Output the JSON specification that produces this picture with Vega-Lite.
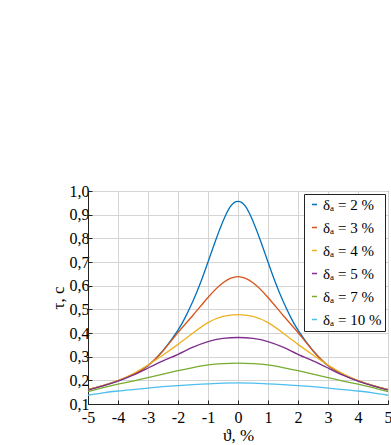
{
  "$schema": "https://vega.github.io/schema/vega-lite/v6.json",
  "width": 300,
  "height": 213,
  "autosize": "none",
  "padding": {"left": 88, "top": 191, "right": 3, "bottom": 41},
  "background": "white",
  "config": {
    "view": {"stroke": "#222", "strokeWidth": 1},
    "font": "Liberation Serif"
  },
  "data": {
    "values": [
      {"t": -5, "tau": 0.161, "d": "2"}, {"t": -4.5, "tau": 0.178, "d": "2"}, {"t": -4, "tau": 0.198, "d": "2"}, {"t": -3.5, "tau": 0.224, "d": "2"}, {"t": -3, "tau": 0.262, "d": "2"}, {"t": -2.5, "tau": 0.325, "d": "2"}, {"t": -2, "tau": 0.412, "d": "2"}, {"t": -1.75, "tau": 0.468, "d": "2"}, {"t": -1.5, "tau": 0.535, "d": "2"}, {"t": -1.25, "tau": 0.612, "d": "2"}, {"t": -1, "tau": 0.70, "d": "2"}, {"t": -0.75, "tau": 0.79, "d": "2"}, {"t": -0.5, "tau": 0.872, "d": "2"}, {"t": -0.25, "tau": 0.935, "d": "2"}, {"t": 0, "tau": 0.956, "d": "2"}, {"t": 0.25, "tau": 0.935, "d": "2"}, {"t": 0.5, "tau": 0.872, "d": "2"}, {"t": 0.75, "tau": 0.79, "d": "2"}, {"t": 1, "tau": 0.70, "d": "2"}, {"t": 1.25, "tau": 0.612, "d": "2"}, {"t": 1.5, "tau": 0.535, "d": "2"}, {"t": 1.75, "tau": 0.468, "d": "2"}, {"t": 2, "tau": 0.412, "d": "2"}, {"t": 2.5, "tau": 0.325, "d": "2"}, {"t": 3, "tau": 0.262, "d": "2"}, {"t": 3.5, "tau": 0.224, "d": "2"}, {"t": 4, "tau": 0.198, "d": "2"}, {"t": 4.5, "tau": 0.178, "d": "2"}, {"t": 5, "tau": 0.161, "d": "2"},

      {"t": -5, "tau": 0.161, "d": "3"}, {"t": -4.5, "tau": 0.178, "d": "3"}, {"t": -4, "tau": 0.199, "d": "3"}, {"t": -3.5, "tau": 0.225, "d": "3"}, {"t": -3, "tau": 0.263, "d": "3"}, {"t": -2.5, "tau": 0.325, "d": "3"}, {"t": -2, "tau": 0.402, "d": "3"}, {"t": -1.5, "tau": 0.475, "d": "3"}, {"t": -1, "tau": 0.55, "d": "3"}, {"t": -0.5, "tau": 0.612, "d": "3"}, {"t": 0, "tau": 0.638, "d": "3"}, {"t": 0.5, "tau": 0.612, "d": "3"}, {"t": 1, "tau": 0.55, "d": "3"}, {"t": 1.5, "tau": 0.475, "d": "3"}, {"t": 2, "tau": 0.402, "d": "3"}, {"t": 2.5, "tau": 0.325, "d": "3"}, {"t": 3, "tau": 0.263, "d": "3"}, {"t": 3.5, "tau": 0.225, "d": "3"}, {"t": 4, "tau": 0.199, "d": "3"}, {"t": 4.5, "tau": 0.178, "d": "3"}, {"t": 5, "tau": 0.161, "d": "3"},

      {"t": -5, "tau": 0.161, "d": "4"}, {"t": -4.5, "tau": 0.178, "d": "4"}, {"t": -4, "tau": 0.199, "d": "4"}, {"t": -3.5, "tau": 0.228, "d": "4"}, {"t": -3, "tau": 0.265, "d": "4"}, {"t": -2.5, "tau": 0.307, "d": "4"}, {"t": -2, "tau": 0.352, "d": "4"}, {"t": -1.5, "tau": 0.40, "d": "4"}, {"t": -1, "tau": 0.444, "d": "4"}, {"t": -0.5, "tau": 0.47, "d": "4"}, {"t": 0, "tau": 0.478, "d": "4"}, {"t": 0.5, "tau": 0.47, "d": "4"}, {"t": 1, "tau": 0.444, "d": "4"}, {"t": 1.5, "tau": 0.40, "d": "4"}, {"t": 2, "tau": 0.352, "d": "4"}, {"t": 2.5, "tau": 0.307, "d": "4"}, {"t": 3, "tau": 0.265, "d": "4"}, {"t": 3.5, "tau": 0.228, "d": "4"}, {"t": 4, "tau": 0.199, "d": "4"}, {"t": 4.5, "tau": 0.178, "d": "4"}, {"t": 5, "tau": 0.161, "d": "4"},

      {"t": -5, "tau": 0.159, "d": "5"}, {"t": -4.5, "tau": 0.177, "d": "5"}, {"t": -4, "tau": 0.197, "d": "5"}, {"t": -3.5, "tau": 0.222, "d": "5"}, {"t": -3, "tau": 0.252, "d": "5"}, {"t": -2.5, "tau": 0.282, "d": "5"}, {"t": -2, "tau": 0.31, "d": "5"}, {"t": -1.5, "tau": 0.34, "d": "5"}, {"t": -1, "tau": 0.364, "d": "5"}, {"t": -0.5, "tau": 0.377, "d": "5"}, {"t": 0, "tau": 0.381, "d": "5"}, {"t": 0.5, "tau": 0.377, "d": "5"}, {"t": 1, "tau": 0.364, "d": "5"}, {"t": 1.5, "tau": 0.34, "d": "5"}, {"t": 2, "tau": 0.31, "d": "5"}, {"t": 2.5, "tau": 0.282, "d": "5"}, {"t": 3, "tau": 0.252, "d": "5"}, {"t": 3.5, "tau": 0.222, "d": "5"}, {"t": 4, "tau": 0.197, "d": "5"}, {"t": 4.5, "tau": 0.177, "d": "5"}, {"t": 5, "tau": 0.159, "d": "5"},

      {"t": -5, "tau": 0.152, "d": "7"}, {"t": -4.5, "tau": 0.169, "d": "7"}, {"t": -4, "tau": 0.184, "d": "7"}, {"t": -3.5, "tau": 0.197, "d": "7"}, {"t": -3, "tau": 0.211, "d": "7"}, {"t": -2.5, "tau": 0.226, "d": "7"}, {"t": -2, "tau": 0.241, "d": "7"}, {"t": -1.5, "tau": 0.254, "d": "7"}, {"t": -1, "tau": 0.265, "d": "7"}, {"t": -0.5, "tau": 0.271, "d": "7"}, {"t": 0, "tau": 0.273, "d": "7"}, {"t": 0.5, "tau": 0.271, "d": "7"}, {"t": 1, "tau": 0.265, "d": "7"}, {"t": 1.5, "tau": 0.254, "d": "7"}, {"t": 2, "tau": 0.241, "d": "7"}, {"t": 2.5, "tau": 0.226, "d": "7"}, {"t": 3, "tau": 0.211, "d": "7"}, {"t": 3.5, "tau": 0.197, "d": "7"}, {"t": 4, "tau": 0.184, "d": "7"}, {"t": 4.5, "tau": 0.169, "d": "7"}, {"t": 5, "tau": 0.152, "d": "7"},

      {"t": -5, "tau": 0.137, "d": "10"}, {"t": -4.5, "tau": 0.147, "d": "10"}, {"t": -4, "tau": 0.155, "d": "10"}, {"t": -3.5, "tau": 0.161, "d": "10"}, {"t": -3, "tau": 0.167, "d": "10"}, {"t": -2.5, "tau": 0.173, "d": "10"}, {"t": -2, "tau": 0.178, "d": "10"}, {"t": -1.5, "tau": 0.182, "d": "10"}, {"t": -1, "tau": 0.185, "d": "10"}, {"t": -0.5, "tau": 0.188, "d": "10"}, {"t": 0, "tau": 0.189, "d": "10"}, {"t": 0.5, "tau": 0.188, "d": "10"}, {"t": 1, "tau": 0.185, "d": "10"}, {"t": 1.5, "tau": 0.182, "d": "10"}, {"t": 2, "tau": 0.178, "d": "10"}, {"t": 2.5, "tau": 0.173, "d": "10"}, {"t": 3, "tau": 0.167, "d": "10"}, {"t": 3.5, "tau": 0.161, "d": "10"}, {"t": 4, "tau": 0.155, "d": "10"}, {"t": 4.5, "tau": 0.147, "d": "10"}, {"t": 5, "tau": 0.137, "d": "10"}
    ]
  },
  "mark": {"type": "line", "interpolate": "natural", "strokeWidth": 1.3},
  "encoding": {
    "x": {
      "field": "t", "type": "quantitative",
      "scale": {"domain": [-5, 5], "nice": false},
      "axis": {"values": [-5, -4, -3, -2, -1, 0, 1, 2, 3, 4, 5], "labelExpr": "datum.value + ''", "title": "ϑ, %",
        "labelFont": "Liberation Serif", "labelFontSize": 16, "labelColor": "#000",
        "titleFont": "Liberation Serif", "titleFontSize": 17, "titleColor": "#000", "titleFontWeight": "normal",
        "gridColor": "#d4d4d4", "domainColor": "#222", "tickColor": "#222", "tickSize": -4,
        "labelPadding": 9, "titlePadding": 2, "labelFlush": false, "labelOverlap": false}
    },
    "y": {
      "field": "tau", "type": "quantitative",
      "scale": {"domain": [0.1, 1.0], "nice": false, "zero": false},
      "axis": {"values": [0.1, 0.2, 0.3, 0.4, 0.5, 0.6, 0.7, 0.8, 0.9, 1.0], "labelExpr": "replace(format(datum.value, '.1f'), '.', ',')", "title": "τ, c",
        "labelFont": "Liberation Serif", "labelFontSize": 16, "labelColor": "#000",
        "titleFont": "Liberation Serif", "titleFontSize": 17, "titleColor": "#000", "titleFontWeight": "normal",
        "gridColor": "#d4d4d4", "domainColor": "#222", "tickColor": "#222", "tickSize": -4,
        "labelPadding": 3, "titlePadding": 2, "labelFlush": false, "labelOverlap": false}
    },
    "color": {
      "field": "d", "type": "nominal",
      "scale": {"domain": ["2", "3", "4", "5", "7", "10"], "range": ["#0072BD", "#D95319", "#EDB120", "#7E2F8E", "#77AC30", "#4DBEEE"]},
      "legend": {
        "title": null, "orient": "top-right", "offset": 3,
        "labelExpr": "'δₐ = ' + datum.label + ' %'",
        "labelFont": "Liberation Serif", "labelFontSize": 15, "labelColor": "#000",
        "symbolType": "stroke", "symbolSize": 25, "symbolStrokeWidth": 1.5,
        "strokeColor": "#222", "fillColor": "white", "padding": 3, "rowPadding": 7, "labelOffset": 1, "labelLimit": 80
      }
    }
  }
}
